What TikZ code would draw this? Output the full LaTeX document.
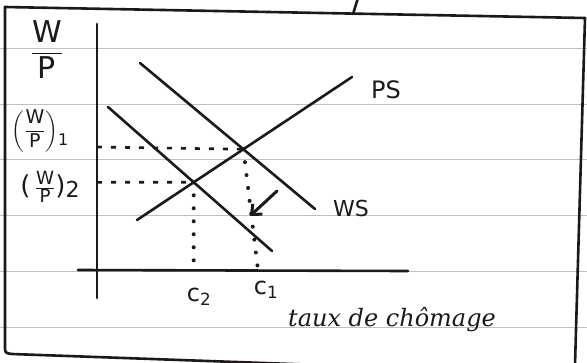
\documentclass[tikz,border=0pt]{standalone}
\usepackage{amsmath}
\usepackage{fontspec}
\setsansfont{DejaVu Sans}
\newfontfamily\handfont{DejaVu Serif}
\usetikzlibrary{arrows.meta}
\begin{document}
\begin{tikzpicture}[x=1pt,y=-1pt,
  ink/.style={draw=inkc,line width=2.6pt,line cap=round},
  rule/.style={draw=gray!50,line width=0.8pt},
  hdash/.style={draw=inkc,line width=2.6pt,dash pattern=on 5pt off 9pt},
  vdot/.style={draw=inkc,line width=4pt,line cap=round,dash pattern=on 0pt off 13pt},
  lbl/.style={text=inkc,inner sep=0pt,font=\sffamily\fontsize{22}{24}\selectfont}]
\definecolor{inkc}{RGB}{30,24,24}
\useasboundingbox (0,0) rectangle (587,362);
\fill[white] (0,0) rectangle (587,362);
% notebook rules
\foreach \yy in {48,104,159,215,271,327}
  \draw[rule] (0,\yy) -- (587,\yy);
% page frame
\begin{scope}
\clip (0,0) rectangle (587,362);
\draw[ink] (358,-2) -- (353,14);
\draw[ink] (5,7) -- (585,18);
\draw[ink] (5,7) -- (5,346) .. controls (5,353) .. (12,354) -- (320,365);
\draw[ink] (585,18) -- (575,365);
\end{scope}
% axes
\coordinate (yt) at (97,24);
\coordinate (yb) at (97,298);
\coordinate (xl) at (78,270);
\coordinate (xr) at (408,271);
\draw[ink] (yt) -- (yb);
\draw[ink] (xl) -- (xr);
% curves
\coordinate (ps1) at (137,220);
\coordinate (ps2) at (352,77);
\coordinate (wa1) at (140,63);
\coordinate (wa2) at (315,209);
\coordinate (wb1) at (108,107);
\coordinate (wb2) at (272,251);
\draw[ink] (ps1) -- (ps2);
\draw[ink] (wa1) -- (wa2);
\draw[ink] (wb1) -- (wb2);
\coordinate (E1) at (intersection of ps1--ps2 and wa1--wa2);
\coordinate (E2) at (intersection of ps1--ps2 and wb1--wb2);
\coordinate (ay1) at (97,147);
\coordinate (ay2) at (97,182.3);
\coordinate (c1) at (258,270);
\coordinate (c2) at (193.7,270);
% guides
\draw[hdash] (ay1) -- (E1);
\draw[hdash] (ay2) -- (E2);
\draw[vdot] (E2) -- (c2);
\draw[vdot] (E1) -- (c1);
% shift arrow
\coordinate (as) at (277,191);
\coordinate (ae) at (250,216);
\draw[ink,line width=3pt,-{Straight Barb[length=8pt,width=14pt]}] (as) -- (ae);
% labels
\node[lbl,font=\sffamily\fontsize{30}{32}\selectfont] (yl) at (47,50) {$\dfrac{\textsf{W}}{\textsf{P}}$};
\node[lbl,font=\sffamily\fontsize{19}{21}\selectfont] (w1) at (40,131) {$\left(\dfrac{\textsf{W}}{\textsf{P}}\right)$\raisebox{-10pt}{\fontsize{16}{18}\selectfont 1}};
\node[lbl,font=\sffamily\fontsize{26}{28}\selectfont] (w2) at (50,187) {(\,$\frac{\textsf{W}}{\textsf{P}}$)\raisebox{-3pt}{\fontsize{22}{24}\selectfont 2}};
\node[lbl,font=\sffamily\fontsize{24}{26}\selectfont] (lps) at (386,90) {PS};
\node[lbl] (lws) at (351,208) {WS};
\node[lbl,font=\sffamily\fontsize{24}{26}\selectfont] (lc2) at (199,297) {c$_{\textsf{2}}$};
\node[lbl,font=\sffamily\fontsize{24}{26}\selectfont] (lc1) at (266,290) {c$_{\textsf{1}}$};
\node[lbl,font=\handfont\itshape\fontsize{24}{26}\selectfont] (lx) at (392,320) {taux de chômage};
\end{tikzpicture}
\end{document}
